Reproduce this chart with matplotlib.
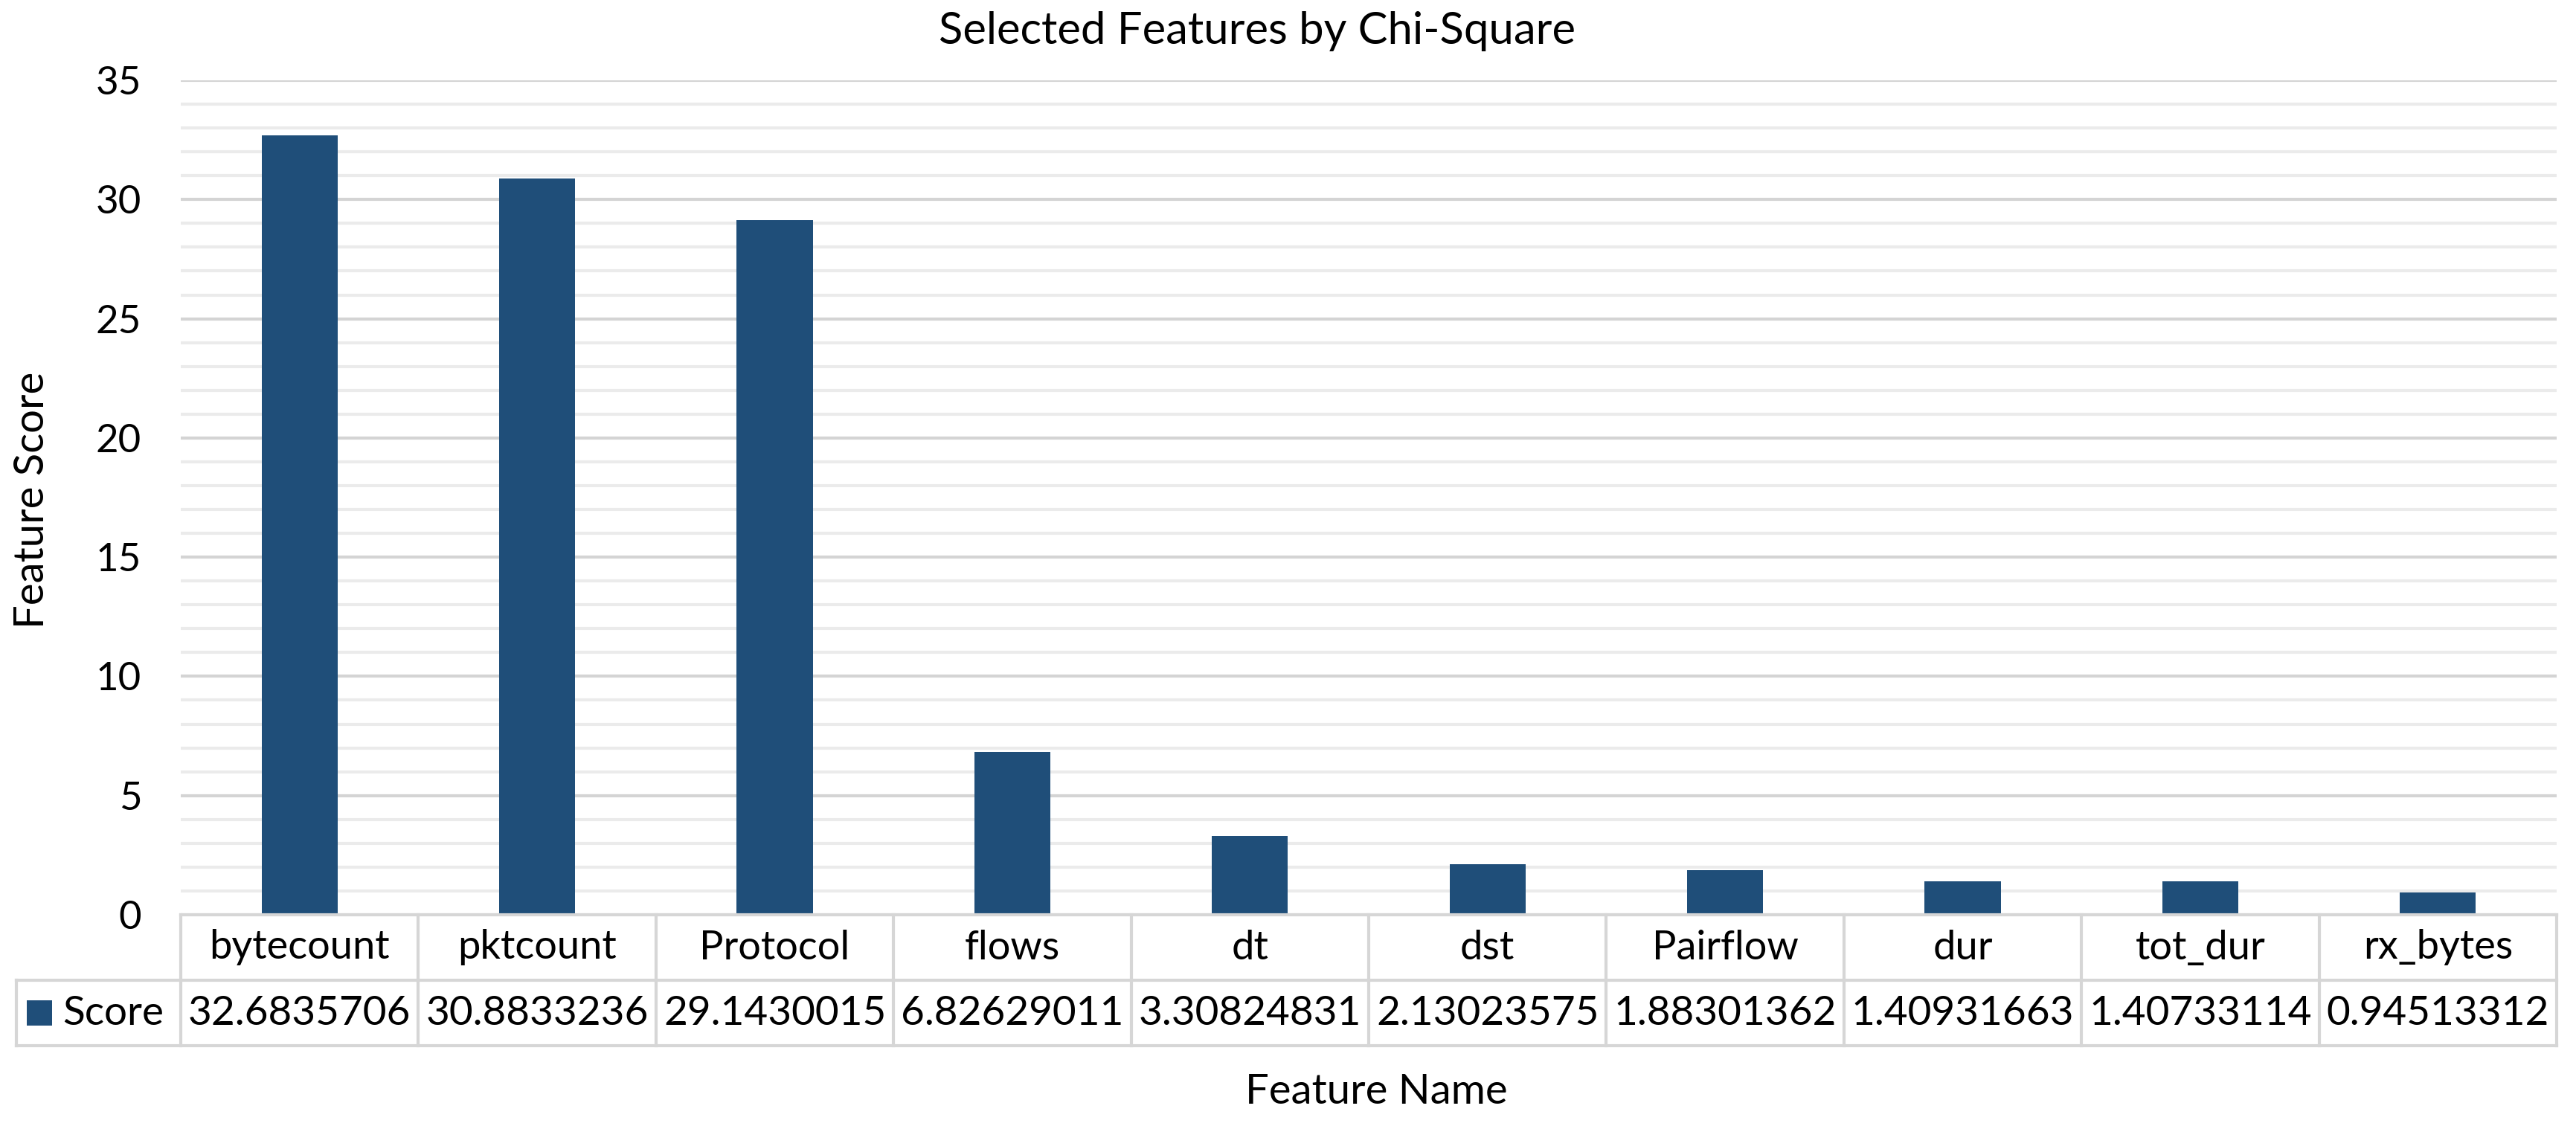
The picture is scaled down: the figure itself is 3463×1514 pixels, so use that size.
"""
Chi-square feature score chart with an Excel-style data table underneath.
"""

import matplotlib

matplotlib.use("Agg")
import matplotlib.pyplot as plt
from matplotlib.patches import Rectangle
from matplotlib.ticker import MultipleLocator

features = ["bytecount", "pktcount", "Protocol", "flows", "dt", "dst",
            "Pairflow", "dur", "tot_dur", "rx_bytes"]
scores = [32.6835706, 30.8833236, 29.1430015, 6.82629011, 3.30824831,
          2.13023575, 1.88301362, 1.40931663, 1.40733114, 0.94513312]
score_labels = ["32.6835706", "30.8833236", "29.1430015", "6.82629011",
                "3.30824831", "2.13023575", "1.88301362", "1.40931663",
                "1.40733114", "0.94513312"]
series_name = "Score"

BAR_COLOR = "#1f4e79"
GRID_MAJOR = "#d4d4d4"
GRID_MINOR = "#ebebeb"
TABLE_LINE = "#d6d6d6"

plt.rcParams["font.family"] = ["Lato", "DejaVu Sans"]

W, H = 3463, 1514
fig = plt.figure(figsize=(W / 100, H / 100), dpi=100)
left, right, top, bottom = 243, 3437, 108, 1230
ax = fig.add_axes([left / W, 1 - bottom / H, (right - left) / W, (bottom - top) / H])

x = list(range(len(features)))
ax.bar(x, scores, width=0.32, color=BAR_COLOR, zorder=3)

ax.set_xlim(-0.5, len(features) - 0.5)
ax.set_ylim(0, 35)
ax.yaxis.set_major_locator(MultipleLocator(5))
ax.yaxis.set_minor_locator(MultipleLocator(1))
ax.grid(axis="y", which="major", color=GRID_MAJOR, linewidth=3, zorder=0)
ax.grid(axis="y", which="minor", color=GRID_MINOR, linewidth=3, zorder=0)
ax.set_xticks([])
ax.tick_params(axis="y", which="both", length=0, labelsize=38, pad=38)
for s in ax.spines.values():
    s.set_visible(False)

# data table below the plot, in data units (35 units = 1122 px)
row_h = 88 * 35 / (bottom - top)
col_px = (right - left) / len(features)
label_left = -0.5 - (left - 22) / col_px
n = len(features)
kw = dict(color=TABLE_LINE, linewidth=3, clip_on=False, zorder=4)
ax.plot([-0.5, n - 0.5], [0, 0], **kw)
ax.plot([-0.5, n - 0.5], [-row_h, -row_h], **kw)
ax.plot([label_left, -0.5], [-row_h, -row_h], **kw)
ax.plot([label_left, n - 0.5], [-2 * row_h, -2 * row_h], **kw)
ax.plot([label_left, label_left], [-row_h, -2 * row_h], **kw)
for k in range(n + 1):
    ax.plot([k - 0.5, k - 0.5], [0, -2 * row_h], **kw)

for i, (name, lab) in enumerate(zip(features, score_labels)):
    ax.text(i, -0.5 * row_h, name, ha="center", va="center", fontsize=39,
            clip_on=False)
    ax.text(i, -1.5 * row_h, lab, ha="center", va="center", fontsize=39.5,
            clip_on=False)

# legend key in the row label cell
key_w = 34 / col_px
key_h = 34 * 35 / (bottom - top)
key_x = label_left + 14 / col_px
ax.add_patch(Rectangle((key_x, -1.5 * row_h - key_h / 2), key_w, key_h,
                       facecolor=BAR_COLOR, edgecolor="none", clip_on=False))
ax.text(key_x + key_w + 14 / col_px, -1.5 * row_h, series_name, ha="left",
        va="center", fontsize=39.5, clip_on=False)

fig.text(1690 / W, 1 - 42 / H, "Selected Features by Chi-Square", ha="center",
         va="center", fontsize=43)
fig.text(44 / W, 1 - 672 / H, "Feature Score", ha="center", va="center",
         rotation=90, fontsize=40.5)
fig.text(1850 / W, 1 - 1469 / H, "Feature Name", ha="center", va="center",
         fontsize=40.5)

fig.savefig("out.png", dpi=100, facecolor="white")
plt.close(fig)
